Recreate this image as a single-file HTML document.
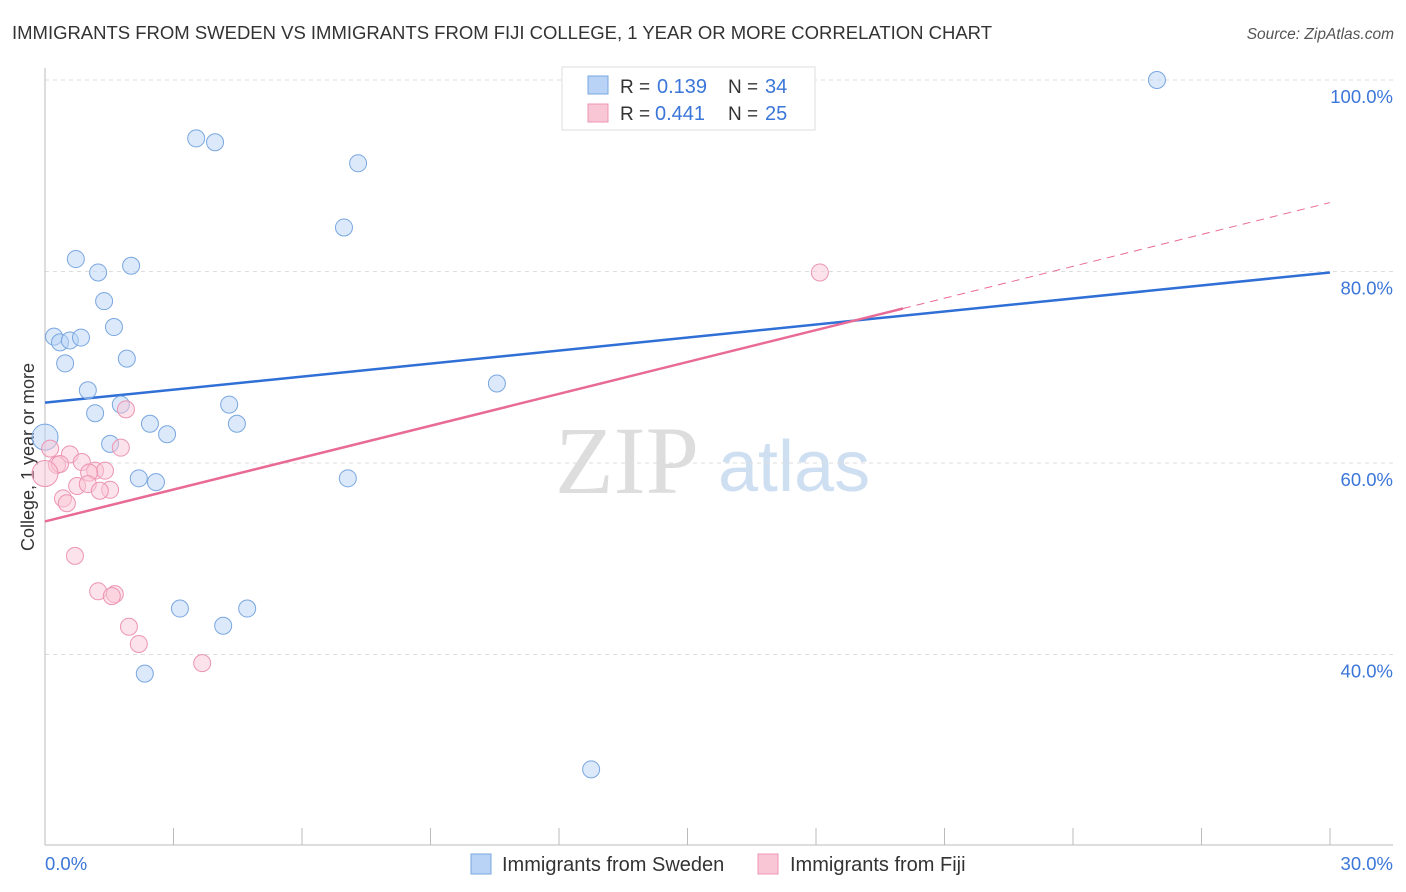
<!DOCTYPE html>
<html><head><meta charset="utf-8"><style>
body{margin:0;background:#fff;font-family:"Liberation Sans",sans-serif;}
svg{display:block}
</style></head><body>
<svg id="chart" width="1406" height="892">
<text x="12" y="39" font-size="18.5" fill="#333" textLength="980">IMMIGRANTS FROM SWEDEN VS IMMIGRANTS FROM FIJI COLLEGE, 1 YEAR OR MORE CORRELATION CHART</text>
<text x="1394" y="39" font-size="15.5" fill="#555" font-style="italic" text-anchor="end">Source: ZipAtlas.com</text>
<text x="34" y="457" font-size="18" fill="#333" text-anchor="middle" transform="rotate(-90 34 457)">College, 1 year or more</text>
<g>
<text x="555" y="493" font-size="96" fill="#ddd" font-family="Liberation Serif,serif">ZIP</text>
<text x="718" y="491" font-size="72" fill="#cfdff2">atlas</text>
</g>
<g id="grid"></g><g id="axes"></g><g id="lines"></g><g id="pts"></g>
<g>
<rect x="562" y="67" width="253" height="63" fill="#fff" stroke="#ddd"/>
<rect x="588" y="76" width="20" height="18" fill="#b8d3f5" stroke="#7aa7e0"/>
<text x="620" y="93" font-size="19" fill="#333">R =</text>
<text x="657" y="93" font-size="20" fill="#3b76d8">0.139</text>
<text x="728" y="93" font-size="19" fill="#333">N =</text>
<text x="765" y="93" font-size="20" fill="#3b76d8">34</text>
<rect x="588" y="104" width="20" height="18" fill="#f9c6d6" stroke="#ec95b2"/>
<text x="620" y="120" font-size="19" fill="#333">R =</text>
<text x="655" y="120" font-size="20" fill="#3b76d8">0.441</text>
<text x="728" y="120" font-size="19" fill="#333">N =</text>
<text x="765" y="120" font-size="20" fill="#3b76d8">25</text>
</g>
<g>
<rect x="471" y="854" width="20" height="20" fill="#b8d3f5" stroke="#7aa7e0"/>
<text x="502" y="871" font-size="20" fill="#333">Immigrants from Sweden</text>
<rect x="758" y="854" width="20" height="20" fill="#f9c6d6" stroke="#ec95b2"/>
<text x="790" y="871" font-size="20" fill="#333">Immigrants from Fiji</text>
</g>
</svg>
<script>
const yTicks=[40,60,80,100];
const xTickLabels=["0.0%","30.0%"];
const swedenX=[25.96,3.53,3.97,7.31,6.98,0.72,2.01,1.24,1.38,1.61,0.21,0.35,0.58,0.84,1.91,0.47,1.00,10.55,1.17,1.77,4.30,2.45,4.48,2.85,1.52,0,2.19,2.59,7.07,3.15,4.72,4.16,2.33,12.75];
const swedenY=[100,93.9,93.5,91.3,84.6,81.3,80.6,79.9,76.9,74.2,73.2,72.6,72.8,73.1,70.9,70.4,67.6,68.3,65.2,66.1,66.1,64.1,64.1,63.0,62.0,62.7,58.4,58.0,58.4,44.8,44.8,43.0,38.0,28.0];
const fijiX=[18.09,1.89,1.77,0.12,0.58,0.28,0.86,0.35,1.17,1.40,1.03,0.75,1.00,1.52,1.28,0.42,0.51,0,0.70,1.24,1.63,1.56,1.96,2.19,3.67];
const fijiY=[79.9,65.6,61.6,61.5,60.9,59.8,60.1,59.9,59.2,59.2,59.0,57.6,57.8,57.2,57.1,56.3,55.8,58.9,50.3,46.6,46.3,46.1,42.9,41.1,39.1];
const swedenFit=[66.3,79.9];
const fijiFit=[53.9,87.2];
const fijiSolidEnd=20.03;
const sx=v=>45+v*1285/30, sy=v=>80+(100-v)*9.575;
const NS="http://www.w3.org/2000/svg";
function mk(tag,attrs,parent){const e=document.createElementNS(NS,tag);for(const k in attrs)e.setAttribute(k,attrs[k]);document.getElementById(parent).appendChild(e);return e;}
yTicks.forEach(t=>{
 const l=mk('line',{x1:45,x2:1393,y1:sy(t),y2:sy(t),stroke:'#ddd','stroke-dasharray':'4 4'},'grid');
 
 
 const tx=mk('text',{x:1393,y:sy(t)+23,'font-size':18.5,fill:'#3b76d8','text-anchor':'end'},'grid');
 tx.textContent=t.toFixed(1)+'%';
 
 
});
const ax=mk('line',{x1:45,x2:1393,y1:845,y2:845,stroke:'#bbb'},'axes');


const ay=mk('line',{x1:45,x2:45,y1:68,y2:845,stroke:'#bbb'},'axes');


for(let i=0;i<=10;i++){
 const t=mk('line',{x1:sx(i*3),x2:sx(i*3),y1:828,y2:845,stroke:'#bbb'},'axes');
 
 
}
const xl0=mk('text',{x:45,y:870,'font-size':18.5,fill:'#3b76d8'},'axes');xl0.textContent=xTickLabels[0];


const xl1=mk('text',{x:1393,y:870,'font-size':18.5,fill:'#3b76d8','text-anchor':'end'},'axes');xl1.textContent=xTickLabels[1];


function dot(x,y,fill,stroke,name){const c=mk('circle',{cx:sx(x),cy:sy(y),r:x===0?13:8.5,fill:fill,'fill-opacity':0.5,stroke:stroke,'stroke-width':1},'pts');
 
 }
swedenX.forEach((x,i)=>dot(x,swedenY[i],'#b8d3f5','#7aa7e0','sweden-point'));
fijiX.forEach((x,i)=>dot(x,fijiY[i],'#f9c6d6','#ec95b2','fiji-point'));
const fy=x=>fijiFit[0]+(fijiFit[1]-fijiFit[0])*x/30;
const bl=mk('line',{x1:sx(0),y1:sy(swedenFit[0]),x2:sx(30),y2:sy(swedenFit[1]),stroke:'#2f6fd6','stroke-width':2.5},'lines');


const pl=mk('line',{x1:sx(0),y1:sy(fy(0)),x2:sx(fijiSolidEnd),y2:sy(fy(fijiSolidEnd)),stroke:'#e86b96','stroke-width':2.5},'lines');


const pd=mk('line',{x1:sx(fijiSolidEnd),y1:sy(fy(fijiSolidEnd)),x2:sx(30),y2:sy(fy(30)),stroke:'#e86b96','stroke-width':1,'stroke-dasharray':'8 6'},'lines');


</script>
</body></html>
